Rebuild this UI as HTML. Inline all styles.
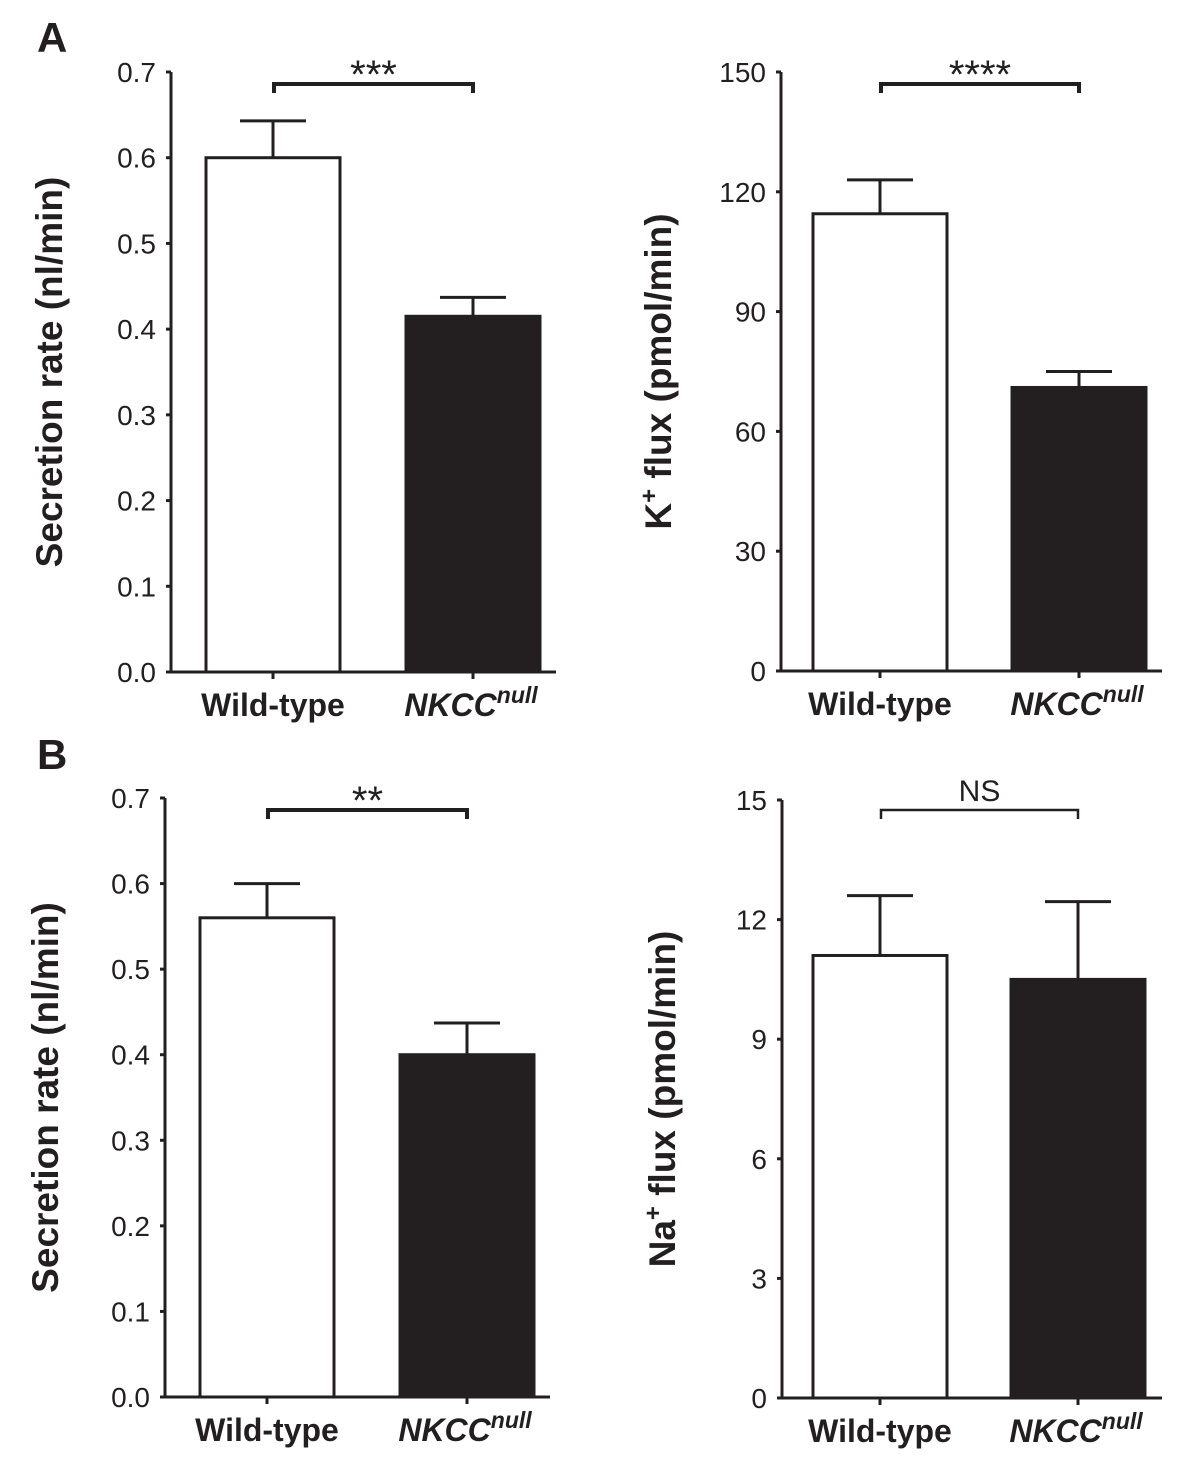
<!DOCTYPE html>
<html><head><meta charset="utf-8"><style>
body{margin:0;background:#fff}
svg{display:block;font-family:"Liberation Sans",Arial,sans-serif}
</style></head><body>
<svg id="fig" width="1200" height="1483" viewBox="0 0 1200 1483">
<text x="37" y="52" font-size="42" font-weight="bold" fill="#231f20">A</text>
<text x="37" y="769" font-size="42" font-weight="bold" fill="#231f20">B</text>
</svg>
<script>
const categories = ["Wild-type", "NKCC"];
const aLeftValues = [0.6, 0.415];
const aLeftErrors = [0.043, 0.022];
const aLeftTicks = ["0.0","0.1","0.2","0.3","0.4","0.5","0.6","0.7"];
const aRightValues = [114.5, 71];
const aRightErrors = [8.5, 4];
const aRightTicks = ["0","30","60","90","120","150"];
const bLeftValues = [0.56, 0.4];
const bLeftErrors = [0.04, 0.037];
const bLeftTicks = ["0.0","0.1","0.2","0.3","0.4","0.5","0.6","0.7"];
const bRightValues = [11.1, 10.5];
const bRightErrors = [1.5, 1.95];
const bRightTicks = ["0","3","6","9","12","15"];
const sigLabels = ["***", "****", "**", "NS"];

const NS = "http://www.w3.org/2000/svg";
const svg = document.getElementById("fig");
const C = "#231f20";
function mk(tag, attrs, parent){
  const e = document.createElementNS(NS, tag);
  for (const k in attrs) e.setAttribute(k, attrs[k]);
  (parent||svg).appendChild(e);
  return e;
}
function panel(p){
  const g = mk("g", {});
  
  
  const max = parseFloat(p.ticks[p.ticks.length-1]);
  const y = v => p.y0 - (v/max)*(p.y0 - p.yTop);
  const ya = mk("line", {x1:p.ax, y1:p.yTop, x2:p.ax, y2:p.y0+1.5, stroke:C, "stroke-width":3}, g);
  
  
  const xa = mk("line", {x1:p.ax-1.5, y1:p.y0, x2:p.xEnd, y2:p.y0, stroke:C, "stroke-width":3}, g);
  
  
  p.ticks.forEach(t => {
    const yy = y(parseFloat(t));
    mk("line", {x1:p.ax-5, y1:yy, x2:p.ax, y2:yy, stroke:C, "stroke-width":3}, g);
    const tx = mk("text", {x:p.ax-15, y:yy+10, "font-size":28, "text-anchor":"end", fill:C}, g);
    tx.textContent = t;
    
    
  });
  p.values.forEach((v, i) => {
    const cx = p.cx[i], hw = 67;
    const top = y(v), et = y(v + p.errors[i]);
    mk("line", {x1:cx, y1:top, x2:cx, y2:et, stroke:C, "stroke-width":3}, g);
    mk("line", {x1:cx-33, y1:et, x2:cx+33, y2:et, stroke:C, "stroke-width":3}, g);
    const b = mk("rect", {x:cx-hw, y:top, width:hw*2, height:p.y0-top, fill:i? C:"#fff", stroke:C, "stroke-width":3}, g);
    
    
    mk("line", {x1:cx, y1:p.y0, x2:cx, y2:p.y0+7, stroke:C, "stroke-width":3}, g);
    const lb = mk("text", {x:cx, y:p.y0+44, "font-size":32, "font-weight":"bold", "text-anchor":"middle", fill:C}, g);
    
    
    if (i === 0) lb.textContent = categories[0];
    else {
      lb.setAttribute("font-style", "italic");
      lb.setAttribute("x", cx-2);
      const t1 = mk("tspan", {}, lb); t1.textContent = categories[1];
      const t2 = mk("tspan", {"font-size":23, dy:-13}, lb); t2.textContent = "null";
    }
  });
  const bx1 = p.cx[0]+1, bx2 = p.cx[1];
  const br = mk("path", {d:`M${bx1} ${p.by+9} V${p.by} H${bx2} V${p.by+9}`, fill:"none", stroke:C, "stroke-width": p.thin?2.5:4}, g);
  
  
  const st = mk("text", {x:(bx1+bx2)/2, y:p.sig==="NS"?p.by-9:p.by+4, "font-size":p.sig==="NS"?30:40, "text-anchor":"middle", fill:C}, g);
  st.textContent = p.sig;
  
  
  const ty = mk("text", {x:0, y:0, "font-size":37, "font-weight":"bold", "text-anchor":"middle", fill:C,
    transform:`translate(${p.tx},${(p.yTop+p.y0)/2}) rotate(-90)`}, g);
  
  
  if (p.ion) {
    const a = mk("tspan", {}, ty); a.textContent = p.ion;
    const s = mk("tspan", {"font-size":24, dy:-14}, ty); s.textContent = "+";
    const r = mk("tspan", {dy:14}, ty); r.textContent = " flux (pmol/min)";
  } else ty.textContent = "Secretion rate (nl/min)";
}
panel({name:"panel-a-secretion", ax:171, yTop:72, y0:672, xEnd:556, cx:[273,473], values:aLeftValues, errors:aLeftErrors, ticks:aLeftTicks, by:84, sig:sigLabels[0], tx:62});
panel({name:"panel-a-k-flux", ax:781, yTop:72, y0:671, xEnd:1162, cx:[880,1079], values:aRightValues, errors:aRightErrors, ticks:aRightTicks, by:84, sig:sigLabels[1], tx:671, ion:"K"});
panel({name:"panel-b-secretion", ax:165, yTop:798, y0:1397, xEnd:550, cx:[267,467], values:bLeftValues, errors:bLeftErrors, ticks:bLeftTicks, by:810, sig:sigLabels[2], tx:58});
panel({name:"panel-b-na-flux", ax:782, yTop:800, y0:1398, xEnd:1162, cx:[880,1078], values:bRightValues, errors:bRightErrors, ticks:bRightTicks, by:810, sig:sigLabels[3], tx:675, ion:"Na", thin:true});
</script>
</body></html>
